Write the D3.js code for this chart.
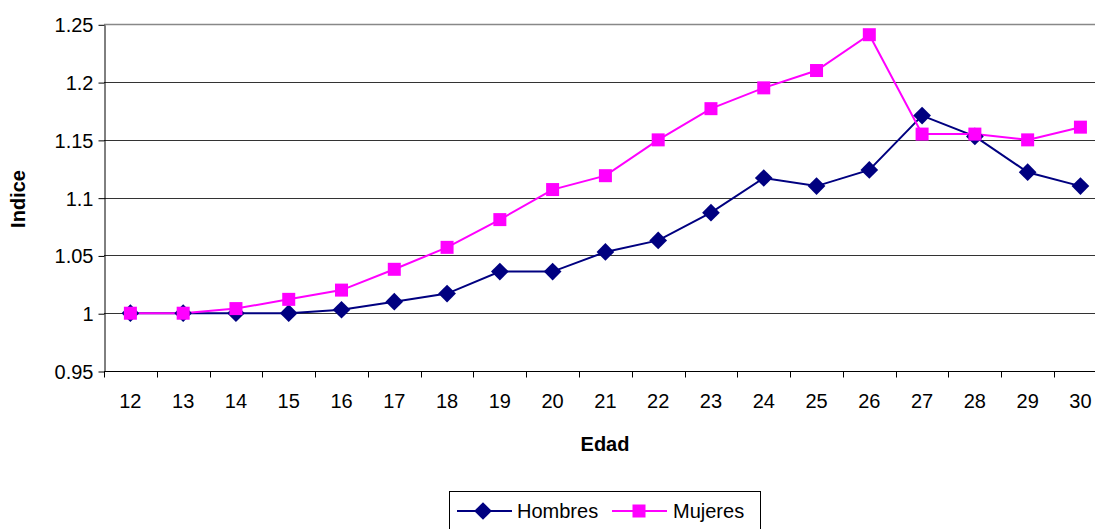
<!DOCTYPE html>
<html>
<head>
<meta charset="utf-8">
<script src="https://cdn.jsdelivr.net/npm/d3@7"></script>
<style>
  html, body { margin: 0; padding: 0; background: #fff; }
  svg { display: block; }
  text { font-family: "Liberation Sans", Arial, sans-serif; fill: #000; }
</style>
</head>
<body>
<svg id="chart" width="1095" height="529"></svg>
<script>
// Age categories on the x axis
const edades = ["12","13","14","15","16","17","18","19","20","21","22","23","24","25","26","27","28","29","30"];
// Index values by age
const hombres = [1.000,1.000,1.000,1.000,1.003,1.010,1.017,1.036,1.036,1.053,1.063,1.087,1.117,1.110,1.124,1.171,1.153,1.122,1.110];
const mujeres = [1.000,1.000,1.004,1.012,1.020,1.038,1.057,1.081,1.107,1.119,1.150,1.177,1.195,1.210,1.241,1.155,1.155,1.150,1.161];
const yTicks = [0.95,1,1.05,1.1,1.15,1.2,1.25];

const svg = d3.select("#chart");
const plotLeft = 104, plotTop = 24.3, plotBottom = 371, stepX = 52.78;
const plotRight = plotLeft + stepX * edades.length;

const x = d3.scaleBand().domain(edades).range([plotLeft, plotRight]);
const y = d3.scaleLinear().domain([0.95, 1.25]).range([plotBottom, plotTop]);

// horizontal gridlines
svg.append("g").selectAll("line").data(yTicks.filter(d => d > 0.95)).join("line")
  .attr("x1", plotLeft).attr("x2", plotRight)
  .attr("y1", d => Math.round(y(d)) + 0.5).attr("y2", d => Math.round(y(d)) + 0.5)
  .attr("stroke", d => d === 1.25 ? "#888" : "#333")
  .attr("stroke-width", d => d === 1.25 ? 1.5 : 1);

// y axis
const yAxis = d3.axisLeft(y).tickValues(yTicks).tickSize(6).tickSizeOuter(0)
  .tickFormat(d => String(+d.toFixed(2)));
const gy = svg.append("g").attr("transform", `translate(${plotLeft + 0.5},0.5)`).call(yAxis);
gy.select(".domain").attr("stroke", "#000");
gy.selectAll(".tick line").attr("stroke", "#000");
gy.selectAll("text").attr("font-size", 20).attr("x", -11).attr("dy", "0.35em")
  .attr("font-family", "Liberation Sans, Arial, sans-serif").attr("fill", "#000");

// x axis with ticks at band boundaries
const gx = svg.append("g").attr("transform", `translate(0,${plotBottom + 0.5})`);
gx.append("line").attr("x1", plotLeft).attr("x2", plotRight).attr("stroke", "#000");
gx.selectAll("line.tk").data(d3.range(edades.length + 1)).join("line").attr("class", "tk")
  .attr("x1", i => Math.round(plotLeft + i * stepX) + 0.5).attr("x2", i => Math.round(plotLeft + i * stepX) + 0.5)
  .attr("y1", 0).attr("y2", 6).attr("stroke", "#000");
gx.selectAll("text").data(edades).join("text")
  .attr("x", d => x(d) + x.bandwidth() / 2).attr("y", 36)
  .attr("text-anchor", "middle").attr("font-size", 20).text(d => d);

// axis titles
svg.append("text").attr("x", 605).attr("y", 451).attr("text-anchor", "middle")
  .attr("font-size", 20).attr("font-weight", "bold").text("Edad");
svg.append("text").attr("transform", "translate(25,199) rotate(-90)").attr("text-anchor", "middle")
  .attr("font-size", 20).attr("font-weight", "bold").text("Indice");

const cx = (d, i) => x(edades[i]) + x.bandwidth() / 2;
const line = d3.line().x((d, i) => cx(d, i)).y(d => y(d));

const diamond = d3.symbol().type(d3.symbolDiamond2).size(200);

// Hombres series
svg.append("path").datum(hombres).attr("d", line)
  .attr("fill", "none").attr("stroke", "#000080").attr("stroke-width", 2);
// Mujeres series
svg.append("path").datum(mujeres).attr("d", line)
  .attr("fill", "none").attr("stroke", "#FF00FF").attr("stroke-width", 2);

svg.append("g").selectAll("path").data(hombres).join("path")
  .attr("transform", (d, i) => `translate(${cx(d, i)},${y(d)})`)
  .attr("d", diamond).attr("fill", "#000080");
const sq = 13;
svg.append("g").selectAll("rect").data(mujeres).join("rect")
  .attr("x", (d, i) => cx(d, i) - sq / 2).attr("y", d => y(d) - sq / 2)
  .attr("width", sq).attr("height", sq).attr("fill", "#FF00FF");

// legend
const lg = svg.append("g");
lg.append("rect").attr("x", 449.5).attr("y", 491.5).attr("width", 311).attr("height", 50)
  .attr("fill", "#fff").attr("stroke", "#000");
const ly = 511;
lg.append("line").attr("x1", 457).attr("x2", 512).attr("y1", ly).attr("y2", ly)
  .attr("stroke", "#000080").attr("stroke-width", 2);
lg.append("path").attr("transform", `translate(483,${ly})`).attr("d", diamond).attr("fill", "#000080");
lg.append("text").attr("x", 517).attr("y", ly + 7).attr("font-size", 20).text("Hombres");
lg.append("line").attr("x1", 612).attr("x2", 667).attr("y1", ly).attr("y2", ly)
  .attr("stroke", "#FF00FF").attr("stroke-width", 2);
lg.append("rect").attr("x", 639 - sq / 2).attr("y", ly - sq / 2).attr("width", sq).attr("height", sq)
  .attr("fill", "#FF00FF");
lg.append("text").attr("x", 673).attr("y", ly + 7).attr("font-size", 20).text("Mujeres");
</script>
</body>
</html>
